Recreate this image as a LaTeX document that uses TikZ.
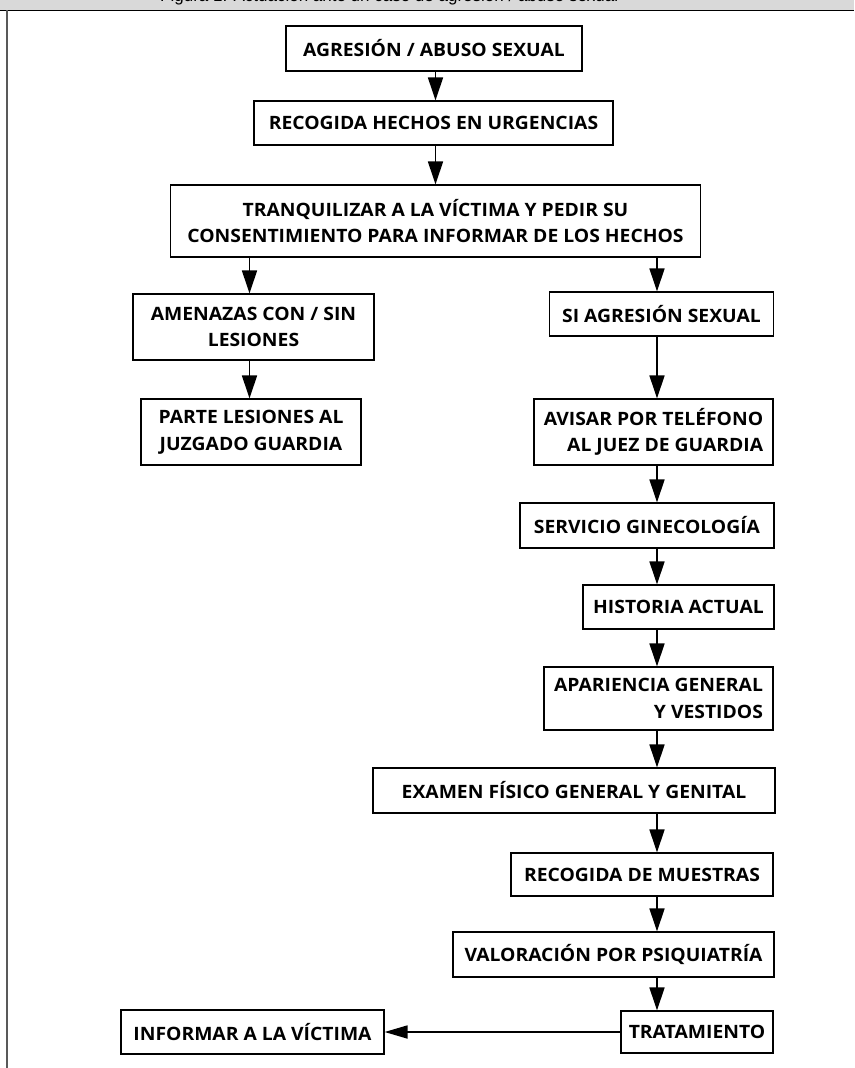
\documentclass[tikz,border=0pt]{standalone}
\usepackage{fontspec}
\setmainfont{Open Sans}[FakeStretch=1.05]
\newfontfamily\titlefont{Liberation Sans}
\usetikzlibrary{arrows.meta}
\begin{document}
\begin{tikzpicture}[x=1pt,y=-1pt,
  box/.style={draw=black, line width=1.2pt, fill=white, inner sep=0pt,
    font=\bfseries\fontsize{18.4}{26.7}\selectfont},
  arr/.style={line width=1.7pt, -{Triangle[length=23pt,width=15pt]}},
  harr/.style={line width=1.8pt, -{Triangle[length=23pt,width=13pt]}}]
\useasboundingbox (0,0) rectangle (854,1068);
% title band
\fill[gray!30] (0,0) rectangle (854,10);
\begin{scope}
\clip (0,0) rectangle (854,10);
\node[anchor=base west, inner sep=0pt, font=\titlefont\fontsize{17}{20}\selectfont, text=black] (title) at (160,1.5) {Figura 1. Actuación ante un caso de agresión / abuso sexual};
\end{scope}
\draw[line width=1.3pt] (0,10.5) -- (854,10.5);
\draw[line width=2pt, black!65] (7,10) -- (7,1068);

% nodes
\node[box, minimum width=296, minimum height=45] (b1) at (434,48.5) {AGRESIÓN / ABUSO SEXUAL};
\node[box, minimum width=359, minimum height=44] (b2) at (433.5,123) {RECOGIDA HECHOS EN URGENCIAS};
\node[box, minimum width=530, minimum height=72, align=center] (b3) at (435.5,221) {TRANQUILIZAR A LA VÍCTIMA Y PEDIR SU\\CONSENTIMIENTO PARA INFORMAR DE LOS HECHOS};
\node[box, minimum width=241, minimum height=66, align=center] (amen) at (253.5,327) {AMENAZAS CON / SIN\\LESIONES};
\node[box, minimum width=224, minimum height=44] (si) at (661.5,314) {SI AGRESIÓN SEXUAL};
\node[box, minimum width=220, minimum height=66, align=center] (parte) at (251,432) {PARTE LESIONES AL\\JUZGADO GUARDIA};
\node[box, minimum width=239, minimum height=66, align=right] (avisar) at (653.5,432) {AVISAR POR TELÉFONO\\AL JUEZ DE GUARDIA};
\node[box, minimum width=254, minimum height=45] (serv) at (647,525.5) {SERVICIO GINECOLOGÍA};
\node[box, minimum width=191, minimum height=44] (hist) at (678.5,607) {HISTORIA ACTUAL};
\node[box, minimum width=229, minimum height=63, align=right] (apar) at (658.5,698.5) {APARIENCIA GENERAL\\Y VESTIDOS};
\node[box, minimum width=402, minimum height=45] (exam) at (574,790.5) {EXAMEN FÍSICO GENERAL Y GENITAL};
\node[box, minimum width=262, minimum height=43] (recog) at (642,874.5) {RECOGIDA DE MUESTRAS};
\node[box, minimum width=321, minimum height=45] (valor) at (613.5,954.5) {VALORACIÓN POR PSIQUIATRÍA};
\node[box, minimum width=152, minimum height=42] (trat) at (697,1032) {TRATAMIENTO};
\node[box, minimum width=263, minimum height=44] (inform) at (252.5,1032) {INFORMAR A LA VÍCTIMA};

% connectors
\coordinate (cx) at (435.5,0);
\coordinate (lx) at (249.5,0);
\coordinate (rx) at (657,0);
\draw[arr] (b1.south -| cx) -- (b2.north -| cx);
\draw[arr] (b2.south -| cx) -- (b3.north -| cx);
\draw[arr] (b3.south -| lx) -- (amen.north -| lx);
\draw[arr] (b3.south -| rx) -- (si.north -| rx);
\draw[arr] (amen.south -| lx) -- (parte.north -| lx);
\draw[arr] (si.south -| rx) -- (avisar.north -| rx);
\draw[arr] (avisar.south -| rx) -- (serv.north -| rx);
\draw[arr] (serv.south -| rx) -- (hist.north -| rx);
\draw[arr] (hist.south -| rx) -- (apar.north -| rx);
\draw[arr] (apar.south -| rx) -- (exam.north -| rx);
\draw[arr] (exam.south -| rx) -- (recog.north -| rx);
\draw[arr] (recog.south -| rx) -- (valor.north -| rx);
\draw[arr] (valor.south -| rx) -- (trat.north -| rx);
\draw[harr] (trat.west) -- (inform.east |- trat.west);
\end{tikzpicture}
\end{document}
